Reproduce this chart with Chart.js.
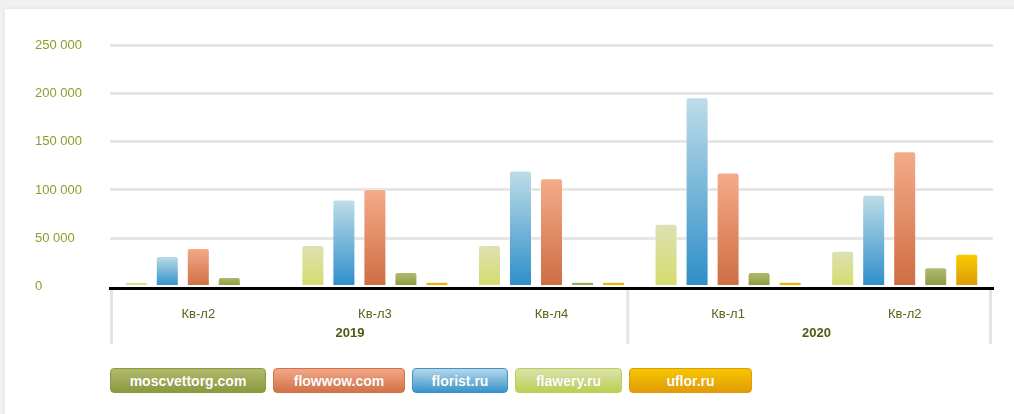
<!DOCTYPE html>
<html>
<head>
<meta charset="utf-8">
<script src="https://cdn.jsdelivr.net/npm/chart.js@4/dist/chart.umd.min.js"></script>
<style>
  html, body { margin: 0; padding: 0; }
  body {
    width: 1014px; height: 414px; overflow: hidden; position: relative;
    background: #f1f1f1;
    font-family: "Liberation Sans", Arial, Helvetica, sans-serif;
  }
  .card {
    position: absolute; left: 5px; top: 9px; width: 1030px; height: 430px;
    background: #fff; box-shadow: 0 0 5px rgba(0, 0, 0, 0.07);
  }
  #chart { position: absolute; left: 0; top: 0; }
  .legend { position: absolute; left: 110px; top: 368px; display: flex; gap: 7px; }
  .legend div {
    height: 25px; line-height: 25px; box-sizing: border-box;
    border-radius: 4px; text-align: center; color: #fff;
    font-weight: bold; font-size: 14px;
    text-shadow: 0 0 1px rgba(0, 0, 0, 0.15);
  }
</style>
</head>
<body>
<div class="card"></div>
<canvas id="chart" width="1014" height="350"></canvas>
<div class="legend" id="legend"></div>
<script>
const quarters = ["Кв-л2", "Кв-л3", "Кв-л4", "Кв-л1", "Кв-л2"];
const years = ["2019", "2020"];
const yearSpans = [3, 2];
const yTicks = [0, 50000, 100000, 150000, 200000, 250000];

// values, one entry per quarter
const flawery = [5000, 43000, 43000, 65000, 37000];
const florist = [31500, 90000, 120000, 196000, 95000];
const flowwow = [40000, 101000, 112000, 118000, 140000];
const moscvettorg = [10000, 15000, 5000, 15000, 20000];
const uflor = [null, 5000, 5000, 5000, 34000];

const legendOrder = ["moscvettorg.com", "flowwow.com", "florist.ru", "flawery.ru", "uflor.ru"];
const legendWidths = [156, 132, 96, 107, 123];

const colors = {
  "flawery.ru": ["#dee1b4", "#d4dc6b"],
  "florist.ru": ["#bfdde8", "#2d8ec9"],
  "flowwow.com": ["#f5ab8a", "#ce6d43"],
  "moscvettorg.com": ["#b4bd74", "#89983c"],
  "uflor.ru": ["#f9cc00", "#de9909"],
};
const pillColors = {
  "moscvettorg.com": ["#b1b96c", "#8b993f"],
  "flowwow.com": ["#f3a787", "#d17247"],
  "florist.ru": ["#b6d8e9", "#3894cb"],
  "flawery.ru": ["#dce1ad", "#bbcf52"],
  "uflor.ru": ["#f7c700", "#e19b08"],
};

function barGradient(name) {
  const [top, bottom] = colors[name];
  return (ctx) => {
    const chart = ctx.chart;
    if (!chart.chartArea || ctx.type !== "data" || ctx.raw == null) return bottom;
    const y = chart.scales.y;
    const g = chart.ctx.createLinearGradient(0, y.getPixelForValue(ctx.raw), 0, y.getPixelForValue(0));
    g.addColorStop(0, top);
    g.addColorStop(1, bottom);
    return g;
  };
}

function makeSet(name, data) {
  return {
    label: name,
    data: data,
    backgroundColor: barGradient(name),
    borderColor: "rgba(255,255,255,0.3)",
    borderWidth: 1,
    borderRadius: { topLeft: 3, topRight: 3 },
    borderSkipped: "bottom",
    barPercentage: 0.742,
    categoryPercentage: 0.878,
  };
}

// year row and separators under the quarter labels
const yearGroups = {
  id: "yearGroups",
  afterDraw(chart) {
    const c = chart.ctx;
    const x = chart.scales.x;
    const area = chart.chartArea;
    const half = (x.getPixelForValue(1) - x.getPixelForValue(0)) / 2;
    c.save();
    c.strokeStyle = "#e4e4e4";
    c.lineWidth = 3;
    let start = 0;
    const edges = [area.left + 1.5];
    years.forEach((yr, i) => {
      const end = start + yearSpans[i] - 1;
      const left = x.getPixelForValue(start) - half;
      const right = x.getPixelForValue(end) + half;
      edges.push(i === years.length - 1 ? right - 2.5 : right - 12);
      c.fillStyle = "#4d5c14";
      c.font = "bold 13px 'Liberation Sans', Arial, sans-serif";
      c.textAlign = "center";
      c.textBaseline = "middle";
      c.fillText(yr, (left + right) / 2 - (i === 0 ? 25 : 0), 333);
      start = end + 1;
    });
    edges.forEach((ex) => {
      c.beginPath();
      c.moveTo(ex, area.bottom + 2);
      c.lineTo(ex, 344);
      c.stroke();
    });
    c.restore();
  },
};

new Chart(document.getElementById("chart"), {
  type: "bar",
  data: {
    labels: quarters,
    datasets: [
      makeSet("flawery.ru", flawery),
      makeSet("florist.ru", florist),
      makeSet("flowwow.com", flowwow),
      makeSet("moscvettorg.com", moscvettorg),
      makeSet("uflor.ru", uflor),
    ],
  },
  options: {
    responsive: false,
    animation: false,
    layout: { padding: { left: 35, right: 21, top: 45, bottom: 2 } },
    plugins: {
      legend: { display: false },
      tooltip: { enabled: false },
    },
    scales: {
      x: {
        grid: { display: false },
        border: { color: "#000", width: 3 },
        ticks: {
          color: "#56661a",
          font: { family: "'Liberation Sans', Arial, sans-serif", size: 13 },
          padding: 11,
        },
        afterFit: (s) => { s.height = 60; },
      },
      y: {
        // small negative floor so the bars sit just on top of the black axis line
        min: -1500,
        max: 250000,
        grid: {
          color: (ctx) => (ctx.tick && ctx.tick.value === 0 ? "rgba(0,0,0,0)" : "#e6e6e6"),
          lineWidth: 3,
          drawTicks: false,
        },
        border: { display: false },
        afterBuildTicks: (s) => {
          s.ticks = yTicks.map((v) => ({ value: v }));
        },
        ticks: {
          color: "#8c9e2a",
          crossAlign: "far",
          font: { family: "'Liberation Sans', Arial, sans-serif", size: 13 },
          callback: (v) => v.toLocaleString("en-US").replace(/,/g, " "),
        },
        afterFit: (s) => { s.width = 75; },
      },
    },
  },
  plugins: [yearGroups],
});

const legend = document.getElementById("legend");
legendOrder.forEach((name, i) => {
  const d = document.createElement("div");
  const [top, bottom] = pillColors[name];
  d.textContent = name;
  d.style.width = legendWidths[i] + "px";
  d.style.background = "linear-gradient(" + top + ", " + bottom + ")";
  d.style.border = "1px solid " + bottom;
  legend.appendChild(d);
});
</script>
</body>
</html>
